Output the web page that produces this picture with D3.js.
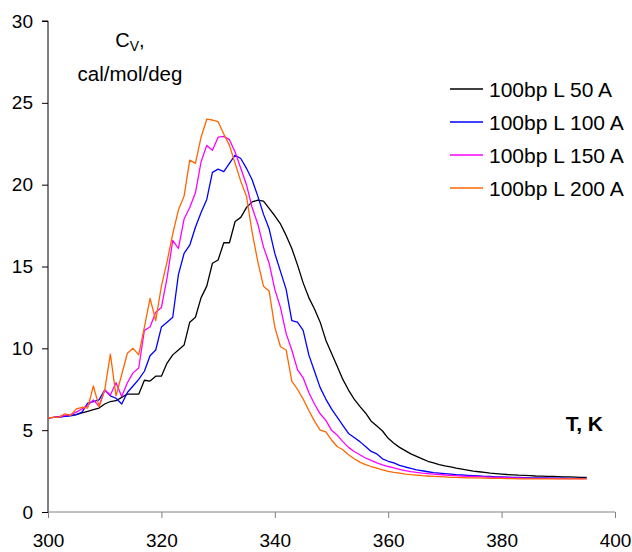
<!DOCTYPE html>
<html>
<head>
<meta charset="utf-8">
<script src="https://cdn.jsdelivr.net/npm/d3@7"></script>
<style>
  body { margin: 0; background: #fff; }
  svg { font-family: "Liberation Sans", Arial, sans-serif; }
</style>
</head>
<body>
<div id="chart"></div>
<script>
// temperature grid, 1 K step
const temps = d3.range(300, 396);

const seriesNames = ["100bp L 50 A", "100bp L 100 A", "100bp L 150 A", "100bp L 200 A"];
const seriesColors = ["#000000", "#0000ff", "#ff00ff", "#ff6600"];

const cv50 = [5.75, 5.78, 5.82, 5.86, 5.9, 5.95, 6.05, 6.15, 6.25, 6.35,
  6.6, 6.75, 6.8, 7.0, 7.2, 7.2, 7.2, 8.05, 8.0, 8.3,
  8.3, 9.1, 9.6, 9.9, 10.2, 11.6, 11.9, 13.1, 13.8, 15.2,
  15.4, 16.45, 16.45, 17.75, 18.0, 18.6, 18.95, 19.05, 19.0, 18.55,
  18.1, 17.6, 16.9, 16.1, 15.1, 14.0, 13.1, 12.4, 11.6, 10.5,
  9.7, 8.9, 8.1, 7.45, 6.9, 6.45, 6.05, 5.55, 5.25, 4.95,
  4.5, 4.2, 3.95, 3.75, 3.55, 3.4, 3.25, 3.1, 3.0, 2.9,
  2.82, 2.76, 2.68, 2.62, 2.56, 2.5, 2.46, 2.42, 2.38, 2.35,
  2.32, 2.29, 2.27, 2.25, 2.24, 2.22, 2.2, 2.19, 2.18, 2.17,
  2.16, 2.15, 2.14, 2.13, 2.12, 2.12];

const cv100 = [5.75, 5.78, 5.8, 5.84, 5.88, 5.95, 6.1, 6.65, 6.75, 6.85,
  7.45, 7.1, 6.95, 6.6, 7.3, 7.7, 8.1, 8.6, 9.55, 9.9,
  11.3, 11.6, 11.9, 14.5, 15.8, 16.3, 17.4, 18.3, 19.1, 20.75,
  20.95, 20.8, 21.3, 21.8, 21.6, 21.0, 20.3, 19.3, 18.2, 17.3,
  15.8, 14.7, 13.6, 11.7, 11.6, 11.1, 9.6, 8.6, 7.6, 6.9,
  6.3, 5.8, 5.3, 4.8, 4.55, 4.3, 4.0, 3.7, 3.55, 3.25,
  3.1, 3.0, 2.85, 2.75, 2.67, 2.58, 2.52, 2.46, 2.4, 2.37,
  2.34, 2.31, 2.28, 2.26, 2.24, 2.22, 2.2, 2.18, 2.17, 2.15,
  2.14, 2.13, 2.12, 2.11, 2.1, 2.09, 2.09, 2.08, 2.08, 2.07,
  2.07, 2.07, 2.06, 2.06, 2.06, 2.06];

const cv150 = [5.75, 5.78, 5.82, 5.9, 5.95, 6.1, 6.3, 6.5, 6.85, 6.45,
  7.45, 7.15, 7.9, 7.05, 7.9, 8.5, 8.8, 11.1, 11.3, 12.2,
  12.5, 14.3, 16.6, 16.1, 17.9, 18.6, 19.5, 21.4, 22.4, 22.1,
  22.9, 22.95, 22.75, 22.0, 21.0, 20.0, 18.6, 17.6, 16.2, 15.2,
  13.6, 12.5, 10.9, 9.9, 8.7, 8.2, 7.3, 6.6, 6.0, 5.6,
  5.0, 4.7, 4.3, 3.95, 3.7, 3.5, 3.3, 3.15, 3.0, 2.88,
  2.78, 2.7, 2.6, 2.53, 2.47, 2.42, 2.38, 2.35, 2.32, 2.29,
  2.26, 2.24, 2.22, 2.2, 2.18, 2.17, 2.16, 2.14, 2.13, 2.12,
  2.11, 2.1, 2.09, 2.08, 2.07, 2.06, 2.06, 2.05, 2.05, 2.05,
  2.04, 2.04, 2.04, 2.04, 2.04, 2.04];

const cv200 = [5.75, 5.78, 5.8, 6.0, 5.9, 6.3, 6.4, 6.35, 7.7, 6.45,
  7.45, 9.65, 7.1, 8.4, 9.7, 10.0, 9.6, 11.3, 13.05, 11.7,
  13.8, 15.3, 17.0, 18.45, 19.3, 21.5, 21.3, 22.9, 24.0, 23.95,
  23.85, 23.1, 22.4, 21.3, 20.2, 19.3, 17.1, 15.3, 13.8, 13.5,
  11.3, 10.1, 9.9, 8.0, 7.5, 6.9, 6.2, 5.55, 5.0, 4.9,
  4.4, 4.0, 3.8, 3.5, 3.25, 3.05, 2.9, 2.78, 2.68, 2.58,
  2.48, 2.42, 2.37, 2.32, 2.28, 2.25, 2.22, 2.2, 2.18, 2.16,
  2.14, 2.12, 2.11, 2.1, 2.09, 2.08, 2.08, 2.07, 2.06, 2.05,
  2.05, 2.04, 2.04, 2.03, 2.03, 2.03, 2.02, 2.02, 2.02, 2.02,
  2.02, 2.02, 2.02, 2.02, 2.02, 2.02];

const xTicks = [300, 320, 340, 360, 380, 400];
const yTicks = [0, 5, 10, 15, 20, 25, 30];

const width = 632, height = 552;

const svg = d3.select("#chart").append("svg")
    .attr("width", width)
    .attr("height", height);

const x = d3.scaleLinear().domain([300, 400]).range([48, 615]);
const y = d3.scaleLinear().domain([0, 30]).range([512, 21]);

// y axis
const yAxis = d3.axisLeft(y).tickValues(yTicks).tickSize(6).tickPadding(9).tickFormat(d3.format("d"));
const gy = svg.append("g")
    .attr("transform", `translate(${x(300)},0)`)
    .call(yAxis);
gy.select(".domain").attr("stroke", "#000").attr("d", `M-6,${y(30)}H0V${y(0)}`);
gy.selectAll(".tick line").attr("stroke", "#000");
gy.selectAll(".tick text").attr("font-size", 19).attr("fill", "#000").attr("font-family", null);

// x axis
const xAxis = d3.axisBottom(x).tickValues(xTicks).tickSize(6).tickPadding(16).tickFormat(d3.format("d"));
const gx = svg.append("g")
    .attr("transform", `translate(0,${y(0)})`)
    .call(xAxis);
gx.select(".domain").attr("stroke", "#808080").attr("d", `M${x(300)},0H${x(400)}`);
gx.selectAll(".tick line").attr("stroke", "#808080");
gx.selectAll(".tick text").attr("font-size", 19).attr("fill", "#000").attr("font-family", null);

// curves
const allSeries = [cv50, cv100, cv150, cv200];
const line = d3.line()
    .x((d, i) => x(temps[i]))
    .y(d => y(d));

svg.append("g").selectAll("path")
    .data(allSeries)
    .join("path")
    .attr("fill", "none")
    .attr("stroke", (d, i) => seriesColors[i])
    .attr("stroke-width", 1.3)
    .attr("stroke-linejoin", "round")
    .attr("d", line);

// axis titles
const cvLabel = svg.append("text")
    .attr("x", 130)
    .attr("y", 47)
    .attr("text-anchor", "middle")
    .attr("font-size", 20);
cvLabel.append("tspan").text("C");
cvLabel.append("tspan").attr("font-size", 14).attr("dy", 4).text("V");
cvLabel.append("tspan").attr("dy", -4).text(",");

svg.append("text")
    .attr("x", 130)
    .attr("y", 81)
    .attr("text-anchor", "middle")
    .attr("font-size", 20.5)
    .text("cal/mol/deg");

svg.append("text")
    .attr("x", 603)
    .attr("y", 431)
    .attr("text-anchor", "end")
    .attr("font-size", 21)
    .attr("font-weight", "bold")
    .text("T, K");

// legend
const legend = svg.append("g");
const legendRows = legend.selectAll("g")
    .data(seriesNames)
    .join("g")
    .attr("transform", (d, i) => `translate(450,${89 + i * 33})`);
legendRows.append("line")
    .attr("x1", 0).attr("x2", 33)
    .attr("stroke", (d, i) => seriesColors[i])
    .attr("stroke-width", 1.3);
legendRows.append("text")
    .attr("x", 39)
    .attr("y", 7.5)
    .attr("font-size", 21)
    .text(d => d);
</script>
</body>
</html>
